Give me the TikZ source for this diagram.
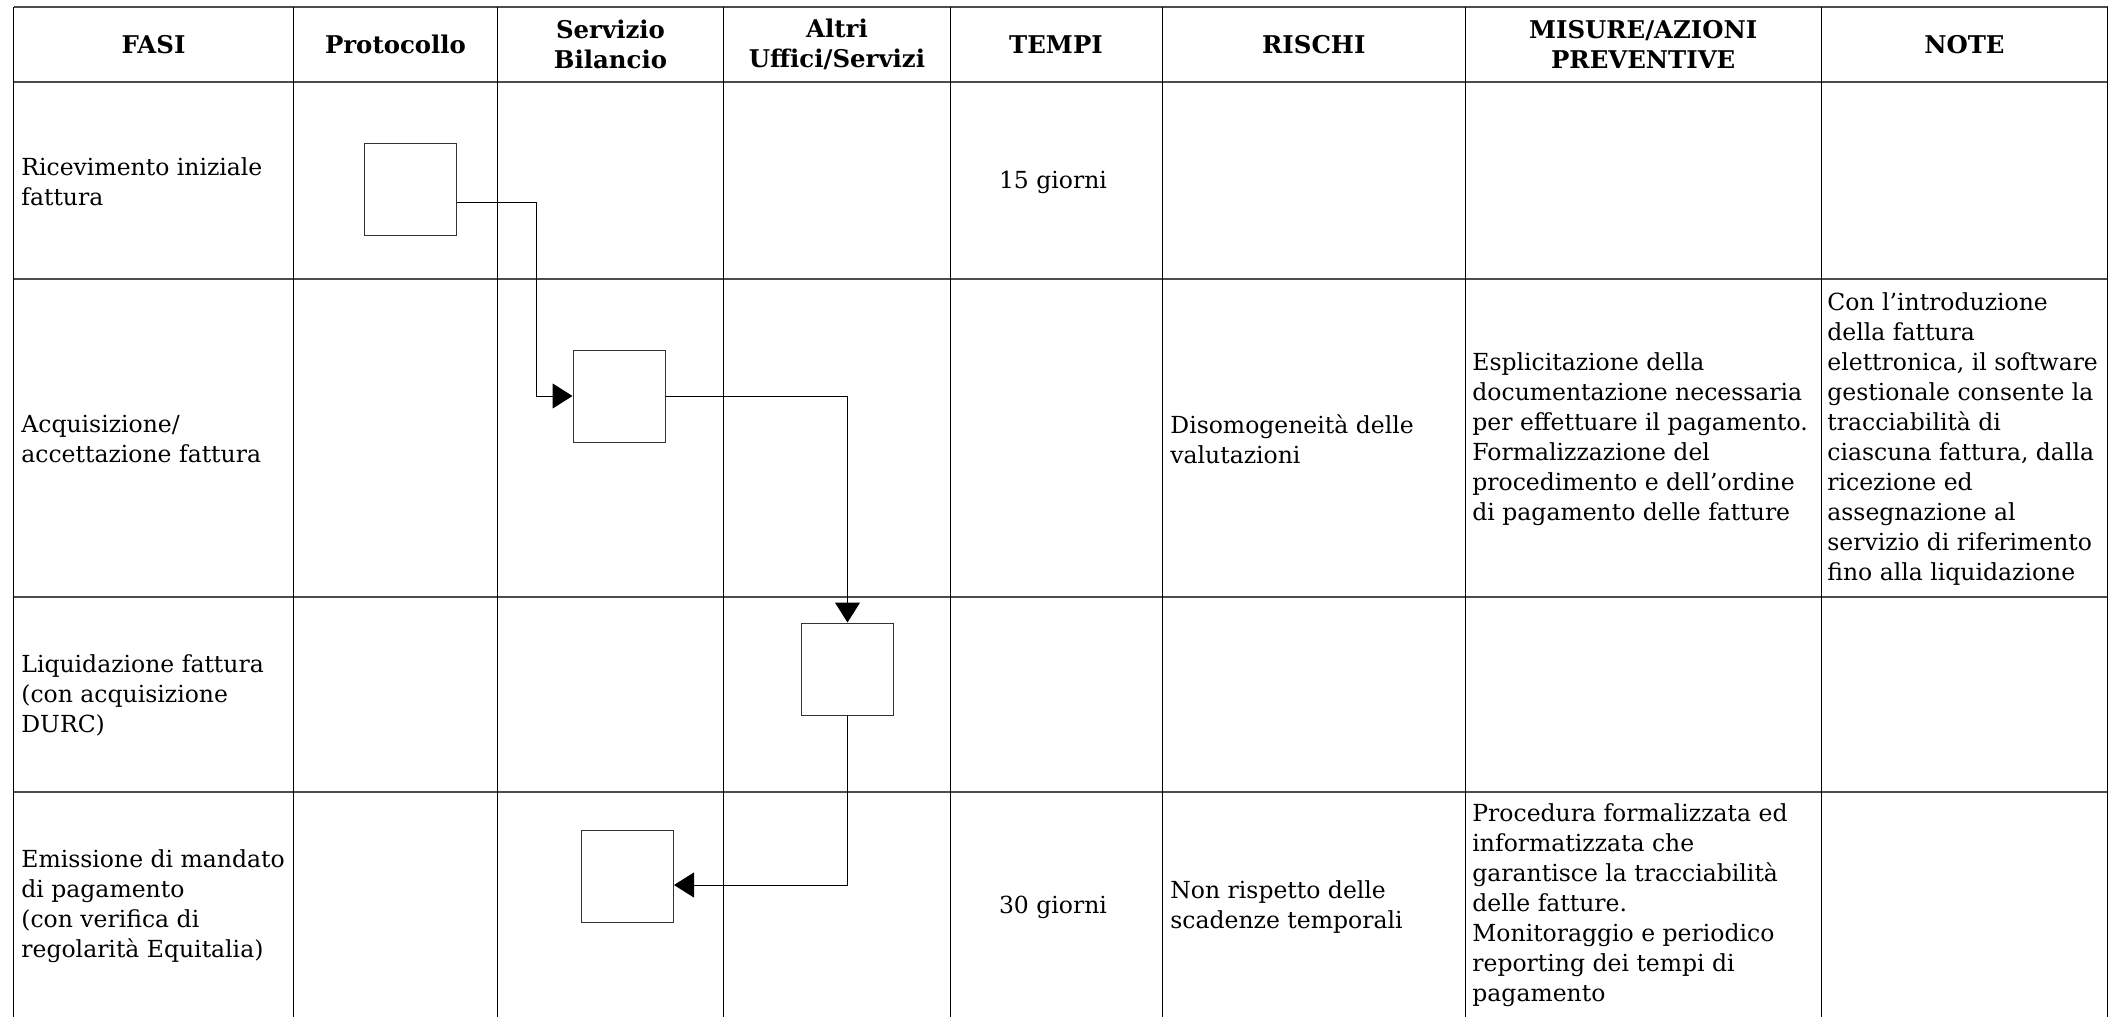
\documentclass[tikz,border=0pt]{standalone}
\usepackage{fontspec}
\setmainfont{DejaVu Serif}
\usetikzlibrary{arrows.meta}
\begin{document}
\begin{tikzpicture}[x=0.5pt,y=-0.5pt,
  hline/.style={line width=0.6pt, draw=black!70},
  vline/.style={line width=0.5pt, draw=black},
  head/.style={font=\fontsize{12.2}{15}\selectfont\bfseries, align=center, inner sep=0},
  cell/.style={font=\fontsize{11.75}{15}\selectfont, align=left, anchor=west, inner sep=0},
  tcell/.style={font=\fontsize{11.75}{15}\selectfont, align=center, inner sep=0},
  stepbox/.style={draw=black!80, line width=0.5pt, minimum width=46pt, minimum height=46pt, inner sep=0},
  flow/.style={line width=0.5pt, -{Triangle[length=10pt,width=12.5pt]}}]
\useasboundingbox (0,0) rectangle (2116,1017);
% grid
\foreach \yy in {7,82,279,597,792} \draw[hline] (13.5,\yy) -- (2108,\yy);
\foreach \xx in {13.5,293.4,497.6,723.4,950.5,1162.2,1465.4,1821,2107.8} \draw[vline] (\xx,7) -- (\xx,1017);
% header
\node[head] (hfasi) at (153.5,44.5) {FASI};
\node[head] (hprot) at (395.5,44.5) {Protocollo};
\node[head] (hserv) at (610.5,44.5) {Servizio\\Bilancio};
\node[head] (haltri) at (837,44.5) {Altri\\Uffici/Servizi};
\node[head] (htempi) at (1056,44.5) {TEMPI};
\node[head] (hrischi) at (1313.8,44.5) {RISCHI};
\node[head] (hmis) at (1643.2,44.5) {MISURE/AZIONI\\PREVENTIVE};
\node[head] (hnote) at (1964.4,44.5) {NOTE};
% row 1
\node[cell] (f1) at (21,182) {Ricevimento iniziale\\fattura};
\node[tcell] (t1) at (1053,182) {15 giorni};
% row 2
\node[cell] (f2) at (21,439) {Acquisizione/\\accettazione fattura};
\node[cell] (r2) at (1170,439) {Disomogeneità delle\\valutazioni};
\node[cell] (m2) at (1472,439) {Esplicitazione della\\documentazione necessaria\\per effettuare il pagamento.\\Formalizzazione del\\procedimento e dell’ordine\\di pagamento delle fatture};
\node[cell] (n2) at (1827,439) {Con l’introduzione\\della fattura\\elettronica, il software\\gestionale consente la\\tracciabilità di\\ciascuna fattura, dalla\\ricezione ed\\assegnazione al\\servizio di riferimento\\fino alla liquidazione};
% row 3
\node[cell] (f3) at (21,695) {Liquidazione fattura\\(con acquisizione\\DURC)};
% row 4
\node[cell] (f4) at (21,906) {Emissione di mandato\\di pagamento\\(con verifica di\\regolarità Equitalia)};
\node[tcell] (t4) at (1053,907) {30 giorni};
\node[cell] (r4) at (1170,907) {Non rispetto delle\\scadenze temporali};
\node[cell] (m4) at (1472,905) {Procedura formalizzata ed\\informatizzata che\\garantisce la tracciabilità\\delle fatture.\\Monitoraggio e periodico\\reporting dei tempi di\\pagamento};
% flow boxes
\node[stepbox] (b1) at (410,189) {};
\node[stepbox] (b2) at (619,396) {};
\node[stepbox] (b3) at (847.5,669) {};
\node[stepbox] (b4) at (627.5,876) {};
\coordinate (j1) at (536,396);
\draw[flow] ([yshift=-6.5pt]b1.east) -| (j1) -- (b2.west);
\draw[flow] (b2.east) -| (b3.north);
\draw[flow] (b3.south) |- ([yshift=-4.5pt]b4.east);
\end{tikzpicture}
\end{document}
